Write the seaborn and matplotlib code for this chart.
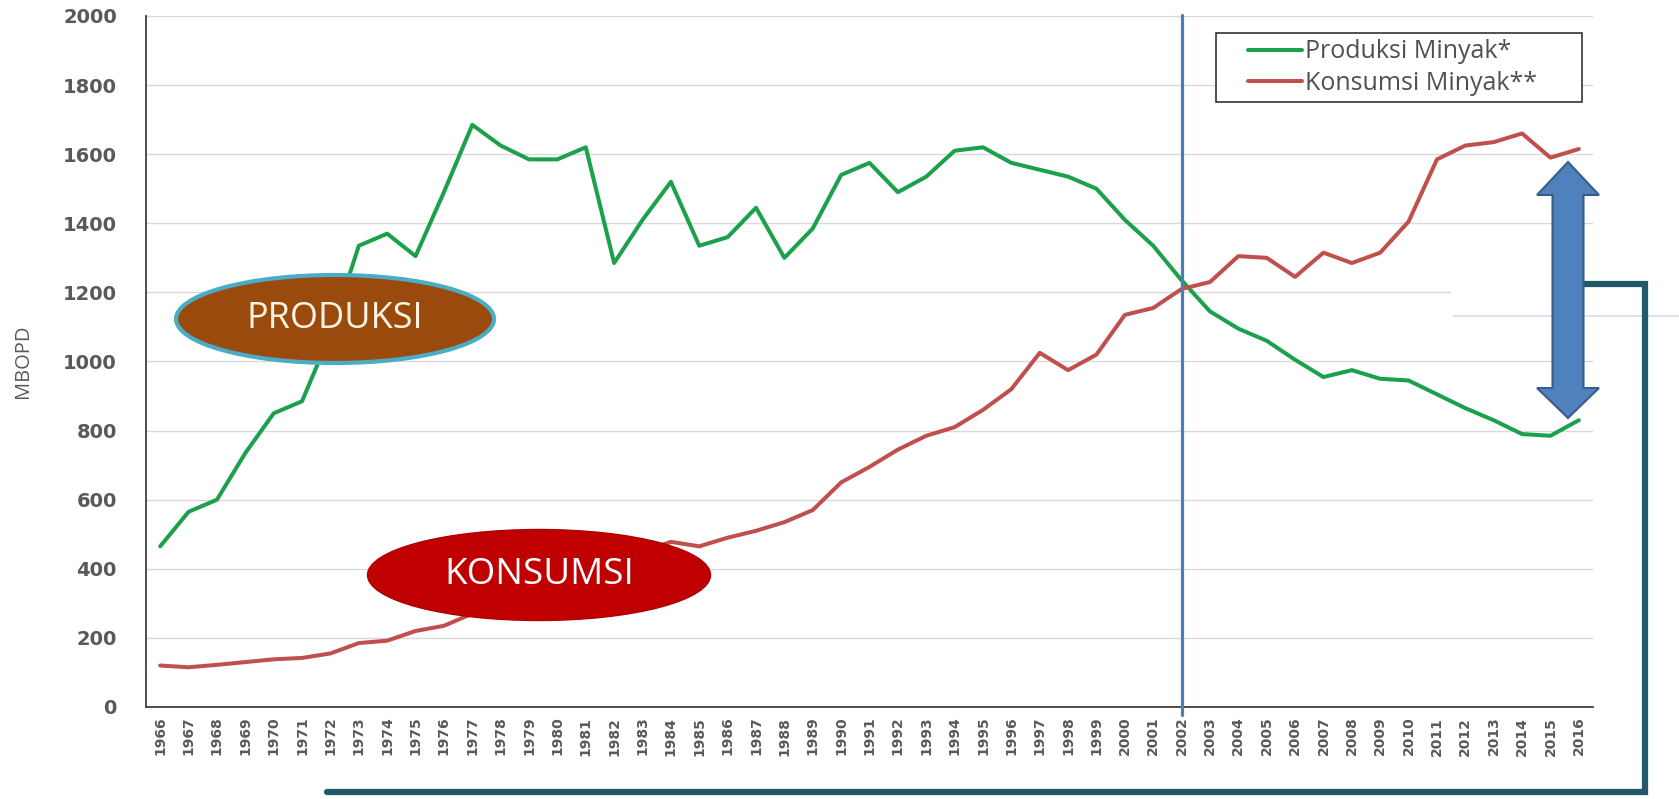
import numpy as np
import pandas as pd
import seaborn as sns
import matplotlib.pyplot as plt
from matplotlib.patches import Ellipse, Polygon, Rectangle
from matplotlib.lines import Line2D

# data (MBOPD)
years = list(range(1966, 2017))
produksi = [465, 565, 600, 735, 850, 885, 1080, 1335, 1370, 1305,
            1490, 1685, 1625, 1585, 1585, 1620, 1285, 1410, 1520, 1335,
            1360, 1445, 1300, 1385, 1540, 1575, 1490, 1535, 1610, 1620,
            1575, 1555, 1535, 1500, 1410, 1335, 1235, 1145, 1095, 1060,
            1005, 955, 975, 950, 945, 905, 865, 830, 790, 785, 830]
konsumsi = [120, 115, 122, 130, 138, 142, 155, 185, 192, 220,
            235, 270, 300, 330, 360, 390, 420, 450, 478, 465,
            490, 510, 535, 570, 650, 695, 745, 785, 810, 860,
            920, 1025, 975, 1020, 1135, 1155, 1210, 1230, 1305, 1300,
            1245, 1315, 1285, 1315, 1405, 1585, 1625, 1635, 1660, 1590, 1615]
series_labels = ["Produksi Minyak*", "Konsumsi Minyak**"]
y_ticks = [0, 200, 400, 600, 800, 1000, 1200, 1400, 1600, 1800, 2000]
cross_year = 2002

W, H = 1679, 799
GREEN = "#1BA14B"
RED = "#C0504D"
GREY_TXT = "#595959"


def fx(px):
    """pixel x -> figure fraction"""
    return px / W


def fy(py):
    """pixel y (from top) -> figure fraction"""
    return 1 - py / H


sns.set_style("white")
plt.rcParams["font.family"] = ["DejaVu Sans"]

fig = plt.figure(figsize=(W / 100, H / 100), dpi=100)
ax = fig.add_axes([fx(146), fy(707), (1593 - 146) / W, (707 - 16) / H])

# long format for seaborn
df = pd.DataFrame({"Tahun": years, series_labels[0]: produksi,
                   series_labels[1]: konsumsi})
df_long = df.melt(id_vars="Tahun", var_name="Seri", value_name="MBOPD")

sns.lineplot(data=df_long, x="Tahun", y="MBOPD", hue="Seri",
             palette=[GREEN, RED], linewidth=2.9, ax=ax, legend=False)

# axes styling
ax.set_xlim(years[0] - 0.5, years[-1] + 0.5)
ax.set_ylim(y_ticks[0], y_ticks[-1])
ax.set_xticks(years)
ax.set_xticklabels([str(y) for y in years], rotation=90, fontsize=10,
                   fontweight="bold", color=GREY_TXT)
ax.set_yticks(y_ticks)
ax.set_yticklabels([str(v) for v in y_ticks], fontsize=14,
                   fontweight="bold", color=GREY_TXT)
ax.tick_params(axis="y", length=0, pad=21)
ax.tick_params(axis="x", length=0, pad=7)
ax.yaxis.grid(True, color="#D9D9D9", linewidth=1)
ax.set_axisbelow(True)
ax.set_xlabel("")
ax.set_ylabel("MBOPD", fontsize=14.5, color=GREY_TXT, family="Open Sans")
ax.yaxis.set_label_coords(-0.078, 0.5)

for side in ["top", "right"]:
    ax.spines[side].set_visible(False)
for side in ["left", "bottom"]:
    ax.spines[side].set_color("#404040")
    ax.spines[side].set_linewidth(1.3)

# vertical marker at the crossing year
ax.axvline(cross_year, ymin=-0.011, ymax=1.002, color="#4A7EBB",
           linewidth=2.3, clip_on=False, zorder=3)

# legend: frameless, box drawn separately so padding matches
fig.add_artist(Rectangle((fx(1216), fy(102)), (1582 - 1216) / W,
                         (102 - 33) / H, transform=fig.transFigure,
                         facecolor="white", edgecolor="#222222",
                         linewidth=1.1, zorder=2))
leg = fig.legend(ax.get_lines()[:2], series_labels, loc="center left",
                 bbox_to_anchor=(fx(1248), fy(67.5)), borderaxespad=0,
                 frameon=False, borderpad=0,
                 handlelength=2.15, handletextpad=0.12, labelspacing=0.25,
                 prop={"family": "Open Sans", "size": 18},
                 labelcolor="#505050")
leg.set_zorder(3)

# cover the 1200 gridline on the right and add the stray light line
fig.add_artist(Polygon([(fx(1451), fy(288)), (fx(1593), fy(288)),
                        (fx(1593), fy(298)), (fx(1451), fy(298))],
                       closed=True, transform=fig.transFigure,
                       facecolor="white", edgecolor="none", zorder=1))
fig.add_artist(Line2D([fx(1453), fx(1679)], [fy(316), fy(316)],
                      transform=fig.transFigure, color="#D3DEE8",
                      linewidth=1.2, zorder=1))

# label ellipses
fig.add_artist(Ellipse((fx(335), fy(319)), 318 / W, 88 / H,
                       transform=fig.transFigure, facecolor="#9A4A0C",
                       edgecolor="#4BACC6", linewidth=3, zorder=5))
fig.text(fx(335), fy(319), "PRODUKSI", ha="center", va="center",
         fontsize=26, color="#FFF3E3", family="Open Sans", zorder=6)

fig.add_artist(Ellipse((fx(539), fy(575)), 343 / W, 91 / H,
                       transform=fig.transFigure, facecolor="#C00000",
                       edgecolor="#B00000", linewidth=1, zorder=5))
fig.text(fx(539), fy(575), "KONSUMSI", ha="center", va="center",
         fontsize=26.5, color="white", family="Open Sans", zorder=6)

# double-headed block arrow showing the gap
cx, sw, hw = 1568, 15.5, 31
arrow_pts = [(cx, 162), (cx + hw, 195), (cx + sw, 195), (cx + sw, 388),
             (cx + hw, 388), (cx, 418), (cx - hw, 388), (cx - sw, 388),
             (cx - sw, 195), (cx - hw, 195)]
fig.add_artist(Polygon([(fx(p[0]), fy(p[1])) for p in arrow_pts],
                       closed=True, transform=fig.transFigure,
                       facecolor="#4F81BD", edgecolor="#385D8A",
                       linewidth=1.5, zorder=5))

# dark connector line
conn = [(1583, 284), (1645, 284), (1645, 792), (327, 792)]
fig.add_artist(Line2D([fx(p[0]) for p in conn], [fy(p[1]) for p in conn],
                      transform=fig.transFigure, color="#215967",
                      linewidth=4.5, solid_joinstyle="miter", zorder=4))

fig.savefig("out.png", dpi=100)
